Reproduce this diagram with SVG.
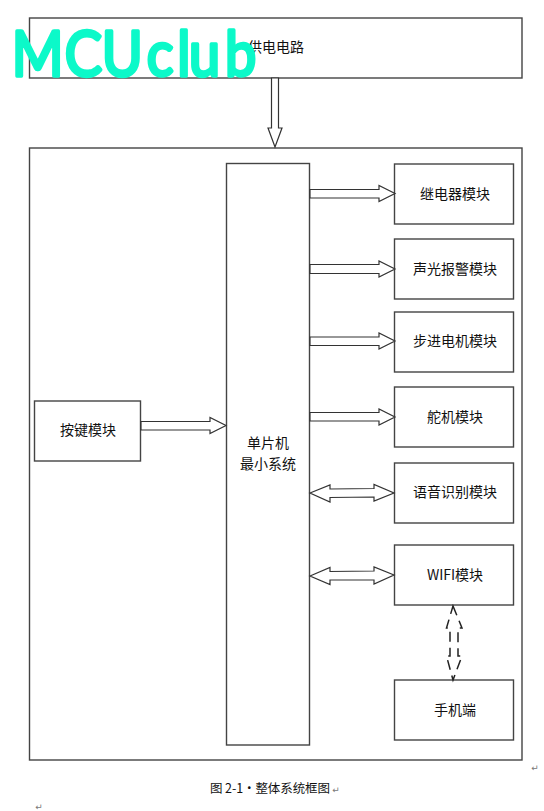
<svg xmlns="http://www.w3.org/2000/svg" width="544" height="811" viewBox="0 0 544 811">
<style>
.b{fill:#fff;stroke:#444;stroke-width:1.4}
.a{fill:#fff;stroke:#333;stroke-width:1.2;stroke-linejoin:miter}
.d{fill:#fff;stroke:#222;stroke-width:1.5;stroke-dasharray:10 6}
.t{font-family:"Noto Sans CJK SC","Liberation Sans",sans-serif;font-size:14px;fill:#111;text-anchor:middle}
.r{font-family:"DejaVu Sans",sans-serif;font-size:9px;fill:#777;text-anchor:middle}
</style>
<rect width="544" height="811" fill="#fff"/>
<g id="power"><rect class="b" x="29.500" y="18" width="492.500" height="60"/><text class="t" x="276" y="52">供电电路</text></g>
<g id="main"><rect class="b" x="29.500" y="148" width="492.500" height="612"/></g>
<g id="mcu"><rect class="b" x="226.500" y="163.500" width="83" height="581.500"/><text class="t" x="268" y="448">单片机</text><text class="t" x="268" y="469">最小系统</text></g>
<g id="key"><rect class="b" x="34.500" y="401" width="106" height="60"/><text class="t" x="88" y="435">按键模块</text></g>
<g id="relay"><rect class="b" x="394.500" y="164" width="119" height="60"/><text class="t" x="455" y="199">继电器模块</text></g>
<g id="alarm"><rect class="b" x="394.500" y="239" width="119" height="60"/><text class="t" x="455" y="274">声光报警模块</text></g>
<g id="stepper"><rect class="b" x="394.500" y="312" width="119" height="60"/><text class="t" x="455" y="346">步进电机模块</text></g>
<g id="servo"><rect class="b" x="394.500" y="387" width="119" height="60"/><text class="t" x="455" y="422">舵机模块</text></g>
<g id="voice"><rect class="b" x="394.500" y="463" width="119" height="60"/><text class="t" x="455" y="497">语音识别模块</text></g>
<g id="wifi"><rect class="b" x="394.500" y="545" width="119" height="60"/><text class="t" x="455" y="580" font-family="'Liberation Mono',monospace">WIFI模块</text></g>
<g id="phone"><rect class="b" x="394.500" y="680" width="119" height="60"/><text class="t" x="455" y="715">手机端</text></g>
<g id="connectors">
<polygon class="a" points="271.500,78 278.500,78 278.500,128 282,128 275,147 268,128 271.500,128"/>
<polygon class="a" points="310,189.500 379,189.500 379,185.500 395,193.500 379,201.500 379,198 310,198"/>
<polygon class="a" points="310,264.500 379,264.500 379,261 395,269 379,277 379,273.500 310,273.500"/>
<polygon class="a" points="310,337 379,337 379,333 395,341 379,349 379,345.500 310,345.500"/>
<polygon class="a" points="310,412.500 379,412.500 379,409 395,417 379,425 379,421 310,421"/>
<polygon class="a" points="141,421.500 210,421.500 210,417.500 226,425.500 210,433.500 210,430 141,430"/>
<polygon class="a" points="310,493 330,485 330,489 374,488.500 374,484.500 394,493 374,501 374,497 330,497.500 330,502"/>
<polygon class="a" points="310,576 330,567.500 330,571.500 374,571 374,567 394,575 374,584 374,580 330,580 330,584.500"/>
<polygon class="d" points="453,606 462,628 458,628 458,656 462,656 453,680 446.500,656 450,656 450,628 446.500,628"/>
</g>
<text transform="scale(0.9 1)" x="13 72 113 163 197 210 250" y="76" font-family="Lato,'Open Sans',sans-serif" font-size="62" fill="#0cf9c9" stroke="#0cf9c9" stroke-width="3.500" stroke-linejoin="round" stroke-linecap="round">MCUclub</text>
<text x="210" y="793" font-family="'Noto Sans CJK SC','Liberation Serif',serif" font-size="12.500" fill="#111" textLength="120" lengthAdjust="spacing">图 2-1·整体系统框图</text>
<text class="r" x="336" y="793">↵</text>
<text class="r" x="535" y="771">↵</text>
<text class="r" x="39" y="810">↵</text>
</svg>
